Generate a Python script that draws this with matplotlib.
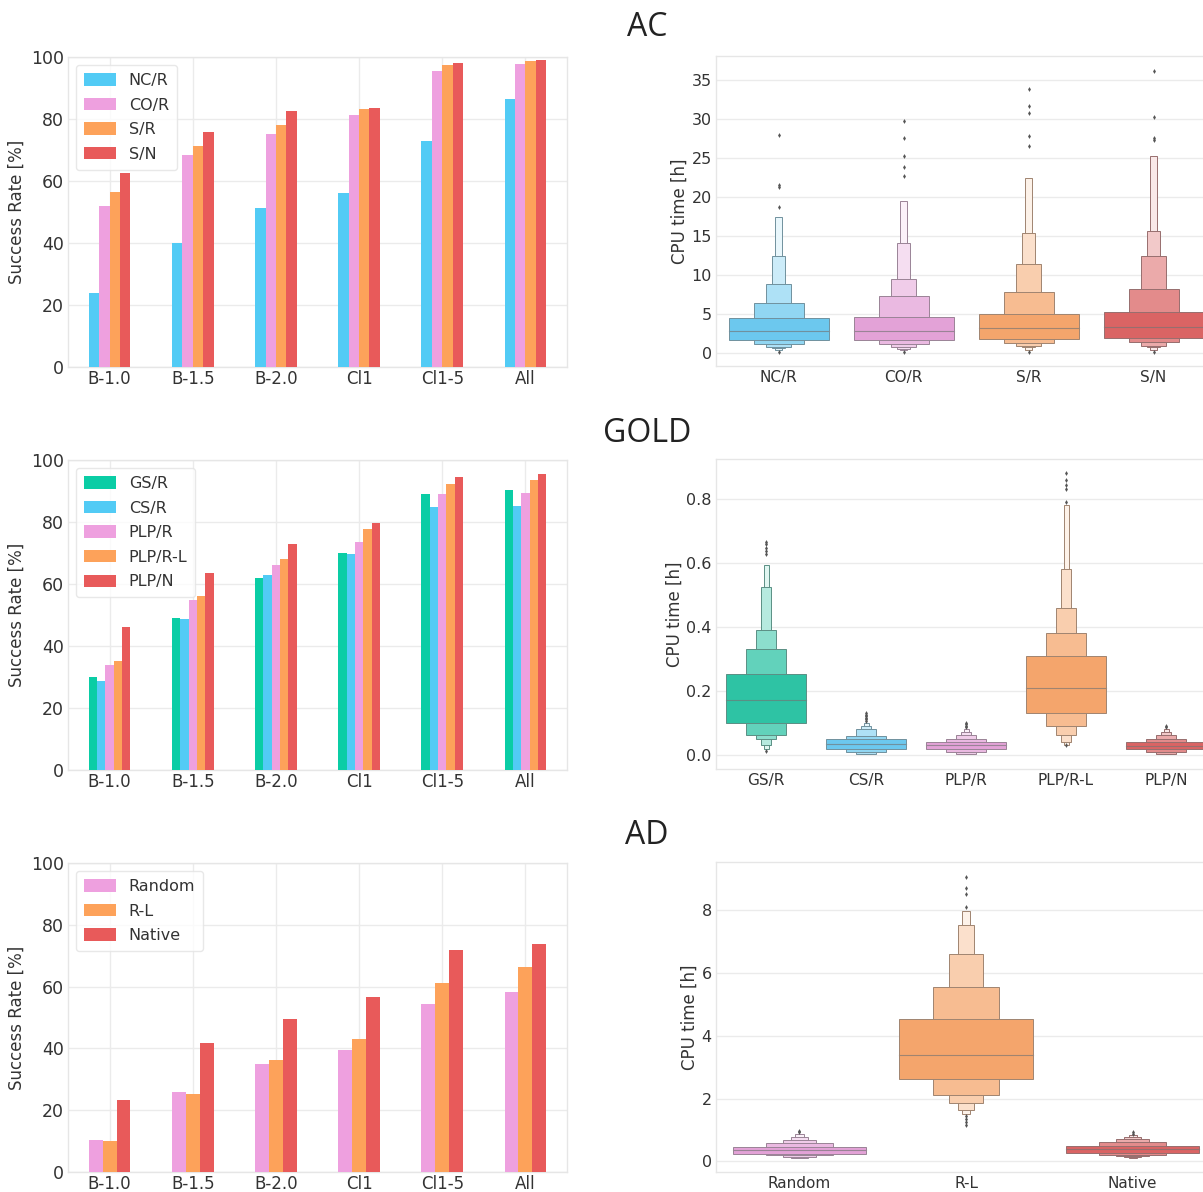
import matplotlib
matplotlib.use("Agg")
import matplotlib.pyplot as plt
import numpy as np

# ---- success rates (left column) ----
groups = ["B-1.0", "B-1.5", "B-2.0", "Cl1", "Cl1-5", "All"]

ac_names = ["NC/R", "CO/R", "S/R", "S/N"]
ac_nc_r = [23.9, 40.1, 51.2, 56.1, 72.9, 86.3]
ac_co_r = [52.0, 68.3, 75.2, 81.2, 95.5, 97.7]
ac_s_r = [56.5, 71.3, 78.1, 83.1, 97.3, 98.8]
ac_s_n = [62.5, 75.9, 82.5, 83.7, 98.2, 99.1]

gold_names = ["GS/R", "CS/R", "PLP/R", "PLP/R-L", "PLP/N"]
gold_gs_r = [29.9, 49.1, 61.8, 70.1, 89.1, 90.4]
gold_cs_r = [28.6, 48.7, 62.8, 69.7, 84.9, 85.1]
gold_plp_r = [33.9, 55.0, 66.0, 73.6, 89.1, 89.4]
gold_plp_rl = [35.3, 56.2, 68.0, 77.8, 92.1, 93.7]
gold_plp_n = [46.1, 63.5, 72.9, 79.6, 94.5, 95.4]

ad_names = ["Random", "R-L", "Native"]
ad_random = [10.2, 26.0, 35.1, 39.4, 54.3, 58.2]
ad_rl = [9.9, 25.4, 36.1, 42.9, 61.1, 66.3]
ad_native = [23.3, 41.6, 49.5, 56.6, 72.0, 73.8]

# ---- CPU time letter values (right column) ----
# upper / lower letter values from the IQR outwards, median, outliers
ac_hi = [[4.55, 6.5, 8.93, 12.46, 17.5], [4.64, 7.3, 9.5, 14.1, 19.5],
         [5.06, 7.8, 11.5, 15.4, 22.5], [5.23, 8.2, 12.5, 15.7, 25.3]]
ac_lo = [[1.66, 1.19, 0.85, 0.64, 0.4], [1.70, 1.15, 0.85, 0.6, 0.4],
         [1.79, 1.28, 0.98, 0.77, 0.4], [1.91, 1.4, 0.98, 0.77, 0.4]]
ac_med = [2.85, 2.9, 3.19, 3.4]
ac_out = [[27.9, 21.6, 21.3, 18.7, 0.2], [29.8, 27.6, 25.3, 23.9, 22.7, 0.2],
          [33.8, 31.6, 30.8, 27.8, 26.5, 0.2], [36.2, 30.3, 27.6, 27.3, 0.2]]

gold_hi = [[0.251, 0.33, 0.39, 0.526, 0.594], [0.049, 0.059, 0.08, 0.09, 0.10],
           [0.041, 0.049, 0.061, 0.072, 0.08], [0.309, 0.38, 0.46, 0.58, 0.78],
           [0.039, 0.049, 0.06, 0.07, 0.08]]
gold_lo = [[0.099, 0.06, 0.049, 0.03, 0.018], [0.019, 0.009, 0.001, 0.001, 0.001],
           [0.019, 0.009, 0.001, 0.001, 0.001], [0.13, 0.09, 0.061, 0.038, 0.03],
           [0.018, 0.009, 0.003, 0.002, 0.002]]
gold_med = [0.17, 0.033, 0.029, 0.21, 0.028]
gold_out = [[0.628, 0.638, 0.648, 0.658, 0.665, 0.01],
            [0.105, 0.11, 0.115, 0.12, 0.125, 0.13],
            [0.085, 0.09, 0.095, 0.1],
            [0.79, 0.83, 0.845, 0.86, 0.88, 0.03],
            [0.085, 0.09]]

ad_hi = [[0.46, 0.59, 0.69, 0.77, 0.88], [4.53, 5.54, 6.6, 7.52, 7.98],
         [0.49, 0.61, 0.72, 0.79, 0.85]]
ad_lo = [[0.24, 0.19, 0.14, 0.12, 0.1], [2.63, 2.1, 1.85, 1.62, 1.51],
         [0.28, 0.21, 0.16, 0.13, 0.1]]
ad_med = [0.35, 3.4, 0.38]
ad_out = [[0.92, 0.95], [8.1, 8.5, 8.7, 9.05, 1.45, 1.35, 1.25, 1.15],
          [0.88, 0.92]]

cyan = "#52CBF5"
pink = "#EEA0DF"
orange = "#FDA25A"
red = "#E85A5A"
green = "#0ACDA5"

box_cyan = "#6CC8EE"
box_pink = "#E3A2D7"
box_orange = "#F4A56C"
box_red = "#DA6464"
box_green = "#2EC3A4"

W, H = 1203, 1192
fig = plt.figure(figsize=(W / 100, H / 100), dpi=100)
plt.rcParams['font.family'] = ['DejaVu Sans']


def px_axes(x0, y0, x1, y1):
    return fig.add_axes([x0 / W, 1 - y1 / H, (x1 - x0) / W, (y1 - y0) / H])


def style(ax, xgrid):
    ax.set_facecolor("white")
    for s in ax.spines.values():
        s.set_color("#E6E6E6")
        s.set_linewidth(1.0)
    ax.grid(axis="y", color="#EBEBEB", linewidth=1.0)
    if xgrid:
        ax.grid(axis="x", color="#EBEBEB", linewidth=1.0)
    ax.set_axisbelow(True)
    ax.tick_params(length=0, colors="#333333", pad=3)


def bar_panel(ax, series, names, colors):
    n = len(series)
    w = 0.5 / n
    x = np.arange(len(groups))
    for i, (vals, name, c) in enumerate(zip(series, names, colors)):
        ax.bar(x - 0.25 + w * (i + 0.5), vals, width=w, color=c, label=name,
               zorder=3)
    style(ax, True)
    ax.set_xlim(-0.5, len(groups) - 0.5)
    ax.set_ylim(0, 100)
    ax.set_xticks(x)
    ax.set_xticklabels(groups, fontsize=12)
    ax.tick_params(axis="x", pad=2)
    ax.set_yticks([0, 20, 40, 60, 80, 100])
    ax.tick_params(axis="y", labelsize=12.5)
    ax.set_ylabel("Success Rate [%]", fontsize=12, color="#333333")
    leg = ax.legend(loc="upper left", fontsize=11.5, handlelength=2.0,
                    handleheight=0.8, labelspacing=0.6, borderpad=0.5,
                    handletextpad=0.8, frameon=True, fancybox=True,
                    borderaxespad=0.5)
    leg.get_frame().set_edgecolor("#E3E3E3")
    for t in leg.get_texts():
        t.set_color("#333333")


def shade(c, k):
    rgb = np.array(matplotlib.colors.to_rgb(c))
    t = 0.0 if k == 0 else min(0.2 * k + 0.05, 0.9)
    return tuple(rgb * (1 - t) + t)


def edge(c):
    rgb = np.array(matplotlib.colors.to_rgb(c))
    return tuple(rgb * 0.35 + 0.45 * 0.65)


def boxen_panel(ax, names, his, los, meds, outs, colors, ylim, yticks, ylabels):
    for i in range(len(names)):
        c = colors[i]
        nlev = len(his[i])
        for k in range(nlev - 1, -1, -1):
            w = 0.8 * 0.5 ** k
            ax.bar(i, his[i][k] - meds[i], width=w, bottom=meds[i],
                   color=shade(c, k), edgecolor=edge(c), linewidth=0.7,
                   zorder=3 + (nlev - k) * 0.1)
            ax.bar(i, meds[i] - los[i][k], width=w, bottom=los[i][k],
                   color=shade(c, k), edgecolor=edge(c), linewidth=0.7,
                   zorder=3 + (nlev - k) * 0.1)
        ax.plot([i - 0.4, i + 0.4], [meds[i], meds[i]], color=edge(c),
                linewidth=0.8, zorder=5)
        ax.scatter([i] * len(outs[i]), outs[i], s=6, color="#555555",
                   marker="d", zorder=5, linewidths=0)
    style(ax, False)
    ax.set_xlim(-0.5, len(names) - 0.5)
    ax.set_ylim(*ylim)
    ax.set_xticks(range(len(names)))
    ax.set_xticklabels(names, fontsize=11)
    ax.set_yticks(yticks)
    ax.set_yticklabels(ylabels, fontsize=11.5)
    ax.set_ylabel("CPU time [h]", fontsize=12, color="#333333", labelpad=2)


rows = [(57, 367), (460, 770), (863, 1172)]

ax1 = px_axes(68, rows[0][0], 567, rows[0][1])
bar_panel(ax1, [ac_nc_r, ac_co_r, ac_s_r, ac_s_n], ac_names,
          [cyan, pink, orange, red])
ax2 = px_axes(716, 56, 1216, 366)
boxen_panel(ax2, ac_names, ac_hi, ac_lo, ac_med, ac_out,
            [box_cyan, box_pink, box_orange, box_red], (-1.62, 38.06),
            [0, 5, 10, 15, 20, 25, 30, 35],
            ["0", "5", "10", "15", "20", "25", "30", "35"])

ax3 = px_axes(68, rows[1][0], 567, rows[1][1])
bar_panel(ax3, [gold_gs_r, gold_cs_r, gold_plp_r, gold_plp_rl, gold_plp_n],
          gold_names, [green, cyan, pink, orange, red])
ax4 = px_axes(716, 459, 1216, 769)
boxen_panel(ax4, gold_names, gold_hi, gold_lo, gold_med, gold_out,
            [box_green, box_cyan, box_pink, box_orange, box_red],
            (-0.045, 0.925), [0.0, 0.2, 0.4, 0.6, 0.8],
            ["0.0", "0.2", "0.4", "0.6", "0.8"])

ax5 = px_axes(68, rows[2][0], 567, rows[2][1])
bar_panel(ax5, [ad_random, ad_rl, ad_native], ad_names, [pink, orange, red])
ax6 = px_axes(716, 862, 1216, 1172)
boxen_panel(ax6, ad_names, ad_hi, ad_lo, ad_med, ad_out,
            [box_pink, box_orange, box_red], (-0.34, 9.53),
            [0, 2, 4, 6, 8], ["0", "2", "4", "6", "8"])

for title, y in [("AC", 28), ("GOLD", 433), ("AD", 836)]:
    fig.text(647 / W, 1 - y / H, title, fontsize=23, ha="center",
             va="center", family=["Open Sans", "DejaVu Sans"], color="#222222")

fig.savefig("out.png", dpi=100, facecolor="white")
